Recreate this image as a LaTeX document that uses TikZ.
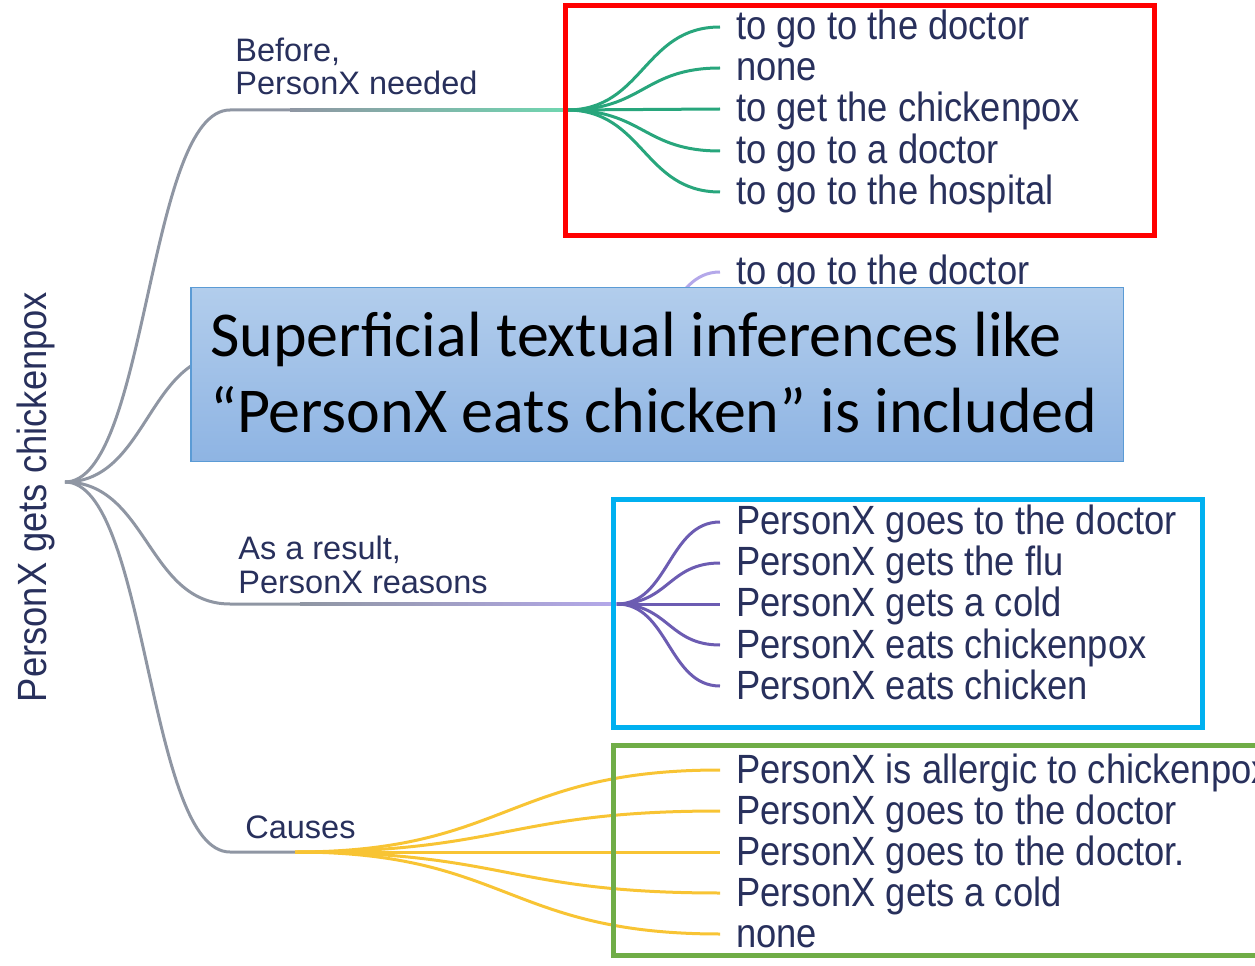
\documentclass[tikz,border=0pt]{standalone}
\usepackage{fontspec}
\usepackage{tikz}
\usetikzlibrary{positioning, calc}
\setmainfont{Liberation Sans}
\newfontfamily\leaffont[FakeStretch=0.89]{Liberation Sans}
\newfontfamily\notefont{Carlito}
\definecolor{cInk}{RGB}{40,48,92}
\definecolor{cGrey}{RGB}{143,150,163}
\definecolor{cMint}{RGB}{112,214,176}
\definecolor{cTeal}{RGB}{40,166,124}
\definecolor{cLilac}{RGB}{180,168,234}
\definecolor{cViolet}{RGB}{108,92,178}
\definecolor{cGold}{RGB}{248,196,52}
\definecolor{cRedBox}{RGB}{255,0,0}
\definecolor{cCyanBox}{RGB}{0,176,240}
\definecolor{cGreenBox}{RGB}{112,173,71}
\definecolor{cNoteTop}{RGB}{178,205,236}
\definecolor{cNoteBot}{RGB}{142,180,227}
\definecolor{cNoteEdge}{RGB}{91,155,213}
\tikzset{
	leaf/.style   ={anchor=west, inner xsep=0.32cm, inner ysep=0pt, text height=0.52cm, text depth=0pt, text=cInk, font=\leaffont\fontsize{23.25pt}{27pt}\selectfont},
	rel/.style    ={anchor=base west, align=left, inner sep=0pt, text=cInk, font=\fontsize{18.5pt}{18.8pt}\selectfont},
	note/.style   ={anchor=north west, draw=cNoteEdge, line width=0.03cm, top color=cNoteTop, bottom color=cNoteBot, minimum width=18.66cm, minimum height=3.48cm, inner sep=0pt},
	notetxt/.style={anchor=base west, align=left, inner sep=0pt, font=\notefont\fontsize{36.4pt}{43.2pt}\selectfont},
	branch/.style ={draw=cGrey, line width=0.06cm},
	twig/.style   ={line width=0.06cm},
	frame/.style  ={line width=0.1cm},
	% horizontal tree link, control points at half the x distance
	link/.style   ={to path={.. controls ($(\tikztostart)!0.5!(\tikztostart -| \tikztotarget)$) and ($(\tikztotarget)!0.5!(\tikztotarget -| \tikztostart)$) .. (\tikztotarget) \tikztonodes}},
}

\begin{document}
\begin{tikzpicture}[x=0.02cm, y=-0.02cm]
	\useasboundingbox (0,0) rectangle (1255,966);
	\clip (0,0) rectangle (1255,966);
	% root and branch points
	\node[rotate=90, anchor=base, inner sep=0pt, text=cInk, font=\leaffont\fontsize{23.25pt}{27pt}\selectfont] (event) at (47,497) {PersonX gets chickenpox};
	\coordinate (hub) at (65,482);
	\coordinate (before) at (230,110);
	\coordinate (hidden) at (230,354);
	\coordinate (result) at (230,604);
	\coordinate (causes) at (230,852);
	\coordinate (fanA) at (567,110);
	\coordinate (fanB) at (617,354);
	\coordinate (fanC) at (617,604);
	\coordinate (fanD) at (295,852);
	
	\draw[branch] (hub) to[link] (before) -- (290,110);
	\draw[branch] (hub) to[link] (hidden) -- (300,354);
	\draw[branch] (hub) to[link] (result) -- (300,604);
	\draw[branch] (hub) to[link] (causes) -- (fanD);
	\shade[left color=cGrey, right color=cMint] (290,108.5) rectangle (567,111.5);
	\shade[left color=cGrey, right color=cLilac] (300,352.5) rectangle (617,355.5);
	\shade[left color=cGrey, right color=cLilac] (300,602.5) rectangle (617,605.5);
	
	\node[rel] (lblA) at (235,95) {Before,\\PersonX needed};
	\node[rel] (lblC) at (238,593) {As a result,\\PersonX reasons};
	\node[rel] (lblD) at (245,838) {Causes};
	
	% before
	\node[leaf] (a1) at (720,27) {to go to the doctor};
	\node[leaf] (a2) at (720,68) {none};
	\node[leaf] (a3) at (720,109) {to get the chickenpox};
	\node[leaf] (a4) at (720,151) {to go to a doctor};
	\node[leaf] (a5) at (720,192) {to go to the hospital};
	\draw[twig, cTeal] (fanA) to[link] (a1.west);
	\draw[twig, cTeal] (fanA) to[link] (a2.west);
	\draw[twig, cTeal] (fanA) to[link] (a3.west);
	\draw[twig, cTeal] (fanA) to[link] (a4.west);
	\draw[twig, cTeal] (fanA) to[link] (a5.west);
	
	% mostly hidden behind the note
	\node[leaf] (b1) at (720,272) {to go to the doctor};
	\draw[twig, cLilac] (fanB) to[link] (b1.west);
	
	% as a result
	\node[leaf] (c1) at (720,522) {PersonX goes to the doctor};
	\node[leaf] (c2) at (720,563) {PersonX gets the flu};
	\node[leaf] (c3) at (720,604) {PersonX gets a cold};
	\node[leaf] (c4) at (720,645) {PersonX eats chickenpox};
	\node[leaf] (c5) at (720,686) {PersonX eats chicken};
	\draw[twig, cViolet] (fanC) to[link] (c1.west);
	\draw[twig, cViolet] (fanC) to[link] (c2.west);
	\draw[twig, cViolet] (fanC) to[link] (c3.west);
	\draw[twig, cViolet] (fanC) to[link] (c4.west);
	\draw[twig, cViolet] (fanC) to[link] (c5.west);
	
	% causes
	\node[leaf] (d1) at (720,770) {PersonX is allergic to chickenpox};
	\node[leaf] (d2) at (720,811) {PersonX goes to the doctor};
	\node[leaf] (d3) at (720,852) {PersonX goes to the doctor.};
	\node[leaf] (d4) at (720,893) {PersonX gets a cold};
	\node[leaf] (d5) at (720,934) {none};
	\draw[twig, cGold] (fanD) to[link] (d1.west);
	\draw[twig, cGold] (fanD) to[link] (d2.west);
	\draw[twig, cGold] (fanD) to[link] (d3.west);
	\draw[twig, cGold] (fanD) to[link] (d4.west);
	\draw[twig, cGold] (fanD) to[link] (d5.west);
	
	\node[note] (note) at (190,287) {};
	\node[notetxt] (notetext) at (210,432) {Superficial textual inferences like\\“PersonX eats chicken” is included};
	
	\draw[frame, cRedBox] (565.5,5.5) rectangle (1154.5,235.5);
	\draw[frame, cCyanBox] (613.5,499.5) rectangle (1202.5,727.5);
	\draw[frame, cGreenBox] (613.5,745.5) rectangle (1270,955.5);
\end{tikzpicture}
\end{document}
